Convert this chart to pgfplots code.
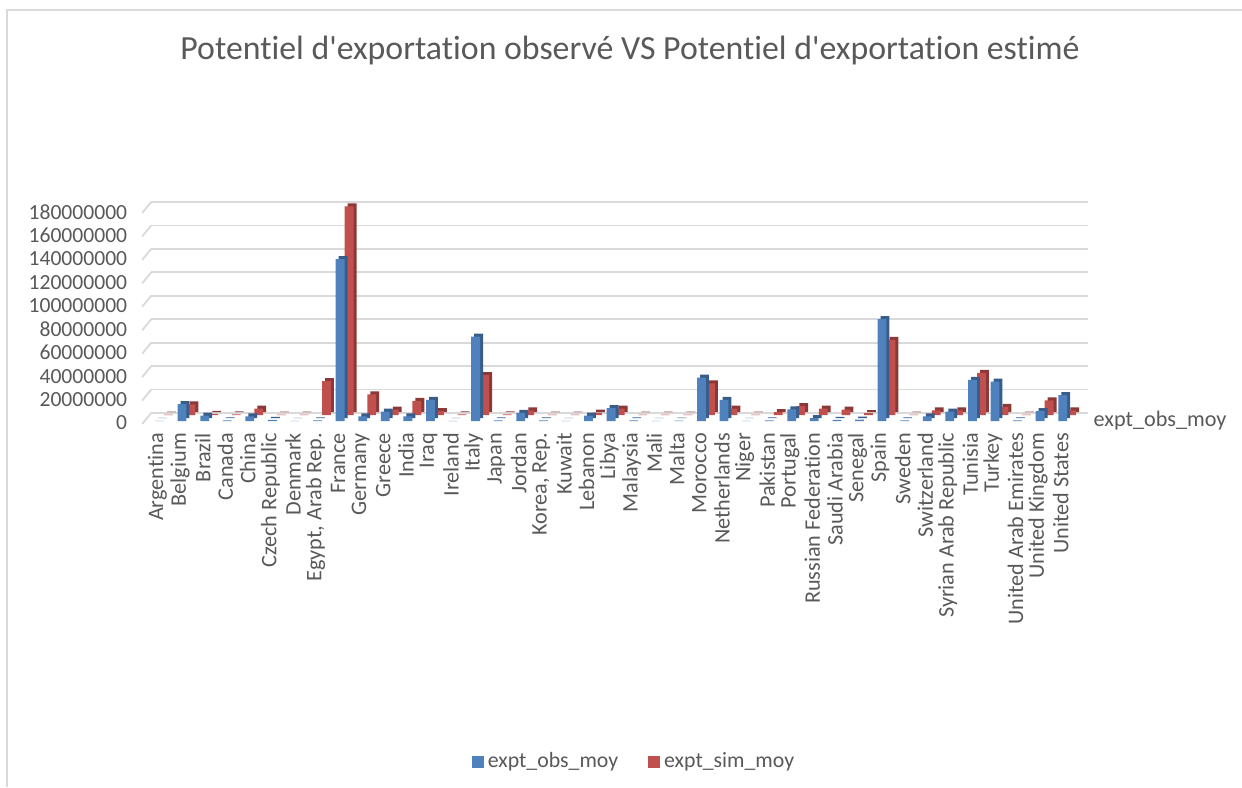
\documentclass[border=0pt]{standalone}
\usepackage{fontspec}
\setmainfont{Carlito}[Ligatures={TeXOff,CommonOff}]
\usepackage{pgfplots}
\usepackage{pgfplotstable}
\pgfplotsset{compat=1.18}
\definecolor{obsblue}{HTML}{4F81BD}
\definecolor{obsdark}{HTML}{385D8A}
\definecolor{simred}{HTML}{C0504D}
\definecolor{simdark}{HTML}{8C3836}
\definecolor{txt}{HTML}{595959}
\definecolor{gridc}{HTML}{D9D9D9}

\pgfplotstableread{
x obs sim
0 200000 300000
1 14500000 9000000
2 4500000 1000000
3 500000 500000
4 4000000 5500000
5 1000000 300000
6 100000 300000
7 500000 29000000
8 138000000 178000000
9 4000000 17500000
10 8000000 4500000
11 4000000 12000000
12 18000000 3300000
13 200000 500000
14 72000000 34000000
15 500000 500000
16 7000000 4000000
17 500000 300000
18 200000 400000
19 4500000 2000000
20 11000000 5500000
21 500000 300000
22 100000 300000
23 300000 400000
24 37000000 27000000
25 18000000 5500000
26 200000 300000
27 500000 2500000
28 10000000 7500000
29 2500000 5500000
30 1000000 4500000
31 1200000 1500000
32 87000000 64000000
33 500000 400000
34 4000000 4000000
35 8000000 4000000
36 35000000 36000000
37 33500000 7000000
38 500000 300000
39 8500000 12500000
40 22000000 4000000
}\data

\begin{document}
\begin{tikzpicture}[x=1pt,y=1pt]
\useasboundingbox (0,0) rectangle (621,393.5);
\draw[gridc, line width=0.9pt] (3.5,0) -- (3.5,388.5) -- (621,388.5);
\node[text=txt, anchor=base, font=\fontsize{16.9}{19}\selectfont] at (315,363.5) {Potentiel d'exportation observé VS Potentiel d'exportation estimé};
\begin{axis}[
  at={(73.1pt,183pt)}, anchor=south west,
  scale only axis, width=468.55pt, height=105.5pt,
  xmin=-0.5, xmax=41, ymin=0, ymax=180000000,
  clip=false,
  ybar, bar width=4.4pt,
  xtick={0,...,40},
  xticklabels={Argentina, Belgium, Brazil, Canada, China, Czech Republic, Denmark, {Egypt, Arab Rep.}, France, Germany, Greece, India, Iraq, Ireland, Italy, Japan, Jordan, {Korea, Rep.}, Kuwait, Lebanon, Libya, Malaysia, Mali, Malta, Morocco, Netherlands, Niger, Pakistan, Portugal, Russian Federation, Saudi Arabia, Senegal, Spain, Sweden, Switzerland, Syrian Arab Republic, Tunisia, Turkey, United Arab Emirates, United Kingdom, United States},
  xticklabel style={yshift=-2.5pt, rotate=90, anchor=east, font=\fontsize{11.1}{13}\selectfont, text=txt},
  ytick={0,20000000,40000000,60000000,80000000,100000000,120000000,140000000,160000000,180000000},
  yticklabels={0,20000000,40000000,60000000,80000000,100000000,120000000,140000000,160000000,180000000},
  yticklabel style={font=\fontsize{10.8}{12}\selectfont, text=txt, xshift=-6pt, yshift=-1pt},
  /pgf/number format/assume math mode=true,
  scaled y ticks=false,
  ymajorgrids, grid style={gridc, line width=0.9pt, xshift=2.5pt, yshift=4pt},
  axis line style={draw=none},
  major tick length=0pt,
  legend style={at={(0.5216,-1.615)}, anchor=center, draw=none, legend columns=2,
    font=\fontsize{10.9}{12}\selectfont, text=txt,
    /tikz/every even column/.append style={column sep=13pt}},
]
\pgfplotsinvokeforeach{0,20000000,40000000,60000000,80000000,100000000,120000000,140000000,160000000,180000000}{
  \draw[gridc, line width=0.9pt] ([xshift=-2pt,yshift=-1.5pt]axis cs:-0.5,#1) -- ([xshift=2.5pt,yshift=4pt]axis cs:-0.5,#1);
}
\addplot[forget plot, fill=simdark, draw=none, bar shift=5.5pt, xshift=1.5pt, yshift=4.5pt] table[x=x, y=sim] {\data};
\addplot[forget plot, fill=simred, draw=none, bar shift=5.5pt, yshift=3pt] table[x=x, y=sim] {\data};
\addplot[forget plot, fill=obsdark, draw=none, bar shift=1pt, xshift=1.5pt, yshift=1.5pt] table[x=x, y=obs] {\data};
\addplot[forget plot, fill=obsblue, draw=none, bar shift=1pt] table[x=x, y=obs] {\data};
\addlegendimage{fill=obsblue, draw=none, legend image code/.code={\fill[obsblue] (0pt,-3pt) rectangle (6pt,3pt);}}
\addlegendentry{expt\_obs\_moy}
\addlegendimage{fill=simred, draw=none, legend image code/.code={\fill[simred] (0pt,-3pt) rectangle (6pt,3pt);}}
\addlegendentry{expt\_sim\_moy}
\node[anchor=west, text=txt, font=\fontsize{11.1}{13}\selectfont, inner sep=0pt] at (rel axis cs:1,0) [xshift=5pt] {expt\_obs\_moy};
\end{axis}
\end{tikzpicture}
\end{document}
